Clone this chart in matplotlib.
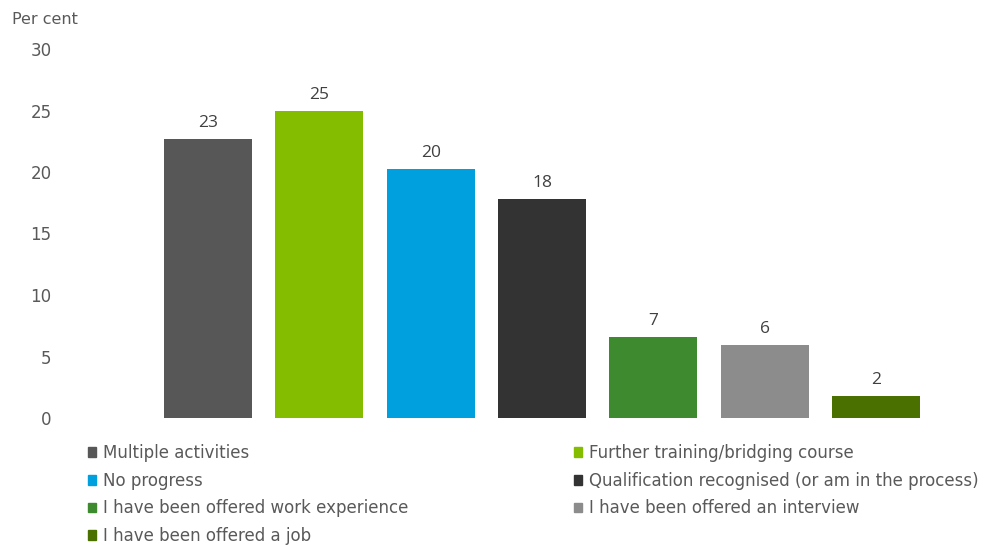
import matplotlib
matplotlib.use('Agg')
import matplotlib.pyplot as plt
from matplotlib.patches import Patch

categories = ['Multiple activities', 'Further training/bridging course', 'No progress',
              'Qualification recognised (or am in the process)',
              'I have been offered work experience', 'I have been offered an interview',
              'I have been offered a job']
values = [22.7, 25.0, 20.25, 17.8, 6.6, 5.95, 1.8]
colors = ['#575757', '#84bc00', '#00a0df', '#333333', '#3d8a2f', '#8c8c8c', '#4a7000']
yticks = [0, 5, 10, 15, 20, 25, 30]

plt.rcParams['font.family'] = 'DejaVu Sans'
fig = plt.figure(figsize=(9.86, 5.45), dpi=100)
W, H = 986, 545
# axes: 60px..980px wide, y=0 at 418px, y=30 at 49px
ax = fig.add_axes([60 / W, (H - 418) / H, 920 / W, 369 / H])

x = list(range(1, len(values) + 1))
bars = ax.bar(x, values, width=0.79, color=colors)
for xi, v in zip(x, values):
    ax.text(xi, v + 0.65, '%.0f' % v, ha='center', va='bottom', fontsize=12.5,
            color='#404040', family='Open Sans')

ax.set_xlim(1 - 148 / 111.33, 1 + 772 / 111.33)
ax.set_ylim(0, 30)
ax.set_yticks(yticks)
ax.set_xticks([])
ax.tick_params(axis='y', length=0, pad=6, labelsize=12, labelcolor='#595959')
for s in ax.spines.values():
    s.set_visible(False)

fig.text(12 / W, 1 - 20 / H, 'Per cent', fontsize=11.5, color='#595959', va='center')

# two legend columns, filled row by row like the series order
handles = [Patch(color=c, label=l) for c, l in zip(colors, categories)]
legend_kw = dict(loc='upper left', frameon=False, fontsize=12, handlelength=0.5,
                 handleheight=0.5, handletextpad=0.4, labelspacing=0.58,
                 borderaxespad=0, borderpad=0)
for cols, xpos in (([0, 2, 4, 6], 88), ([1, 3, 5], 574)):
    leg = fig.legend([handles[i] for i in cols], [categories[i] for i in cols],
                     bbox_to_anchor=(xpos / W, 1 - 444 / H), **legend_kw)
    for t in leg.get_texts():
        t.set_color('#595959')

fig.savefig('out.png', dpi=100)
